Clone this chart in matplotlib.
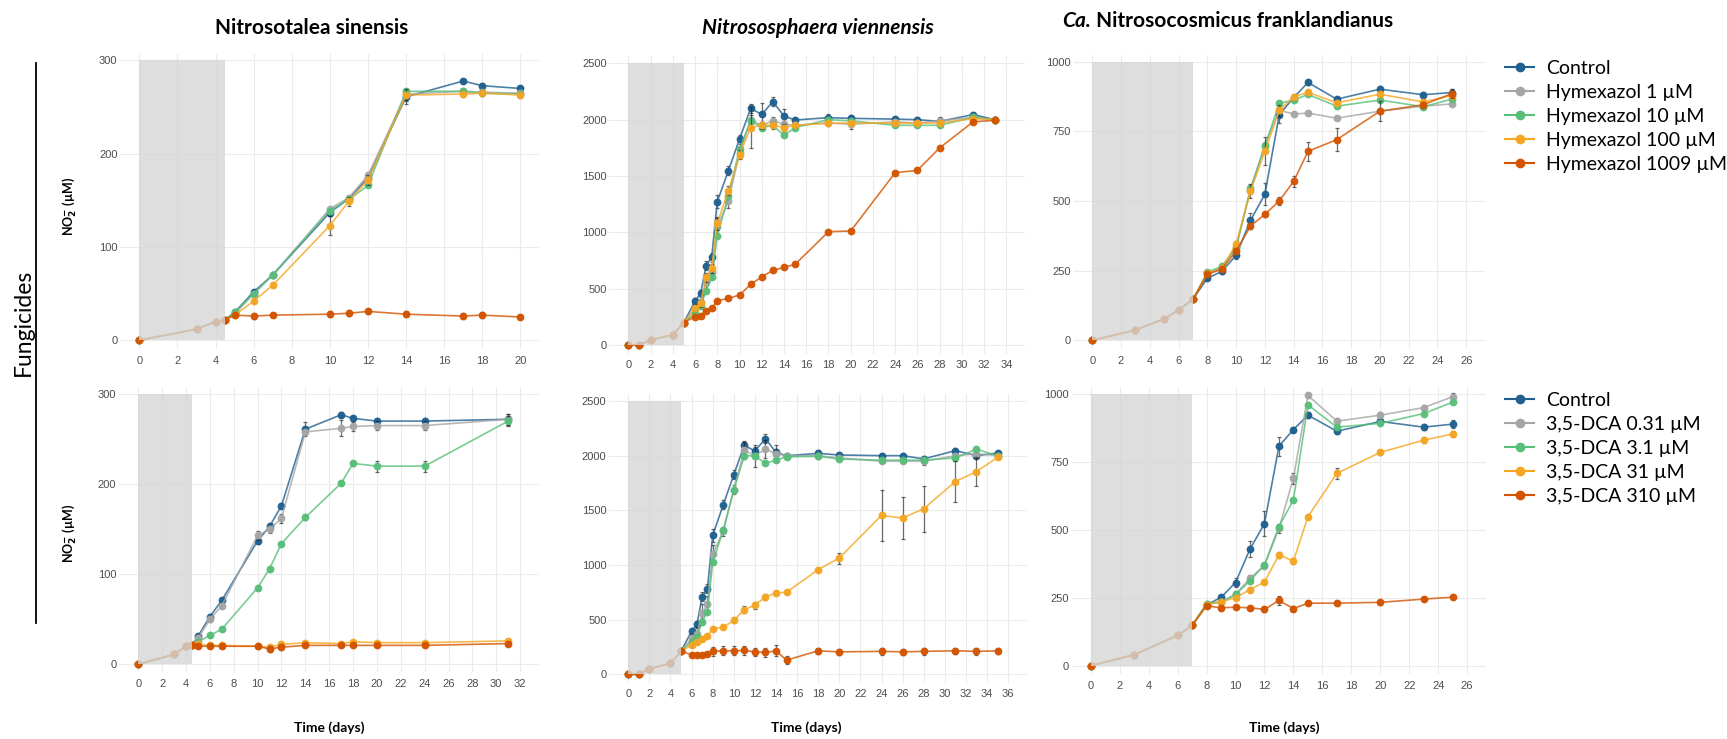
import matplotlib
matplotlib.use("Agg")
import matplotlib.pyplot as plt
from matplotlib.patches import Rectangle
from matplotlib.lines import Line2D

W, H = 1727, 739
plt.rcParams.update({"font.family": ["Lato", "DejaVu Sans"]})

COLORS = ["#1f6090", "#a6a6a6", "#58bf7a", "#f5a623", "#d35400"]
HYM_LABELS = ["Control", "Hymexazol 1 µM", "Hymexazol 10 µM", "Hymexazol 100 µM", "Hymexazol 1009 µM"]
DCA_LABELS = ["Control", "3,5-DCA 0.31 µM", "3,5-DCA 3.1 µM", "3,5-DCA 31 µM", "3,5-DCA 310 µM"]

# --- Nitrosotalea sinensis, hymexazol ---
PRE_X_A = [0, 3, 4, 4.5]
PRE_Y_A = [0, 12, 20, 22]
DAYS_A = [5, 6, 7, 10, 11, 12, 14, 17, 18, 20]
CTRL_A = [30, 52, 70, 137, 152, 174, 261, 278, 273, 270]
HYM1_A = [28, 50, 70, 141, 153, 177, 264, 267, 266, 265]
HYM10_A = [30, 50, 70, 139, 151, 166, 267, 267, 265, 264]
HYM100_A = [27, 42, 59, 123, 149, 172, 263, 264, 265, 263]
HYM1009_A = [27, 26, 27, 28, 29, 31, 28, 26, 27, 25]
ERR_A = {0: [2, 2, 2, 4, 3, 4, 8, 2, 3, 2],
         3: [2, 2, 2, 10, 5, 5, 6, 3, 3, 3],
         4: [2, 3, 2, 3, 3, 3, 3, 3, 3, 2]}

# --- Nitrososphaera viennensis, hymexazol ---
PRE_X_B = [0, 1, 2, 4, 5]
PRE_Y_B = [0, 0, 45, 90, 200]
DAYS_B = [6, 6.5, 7, 7.5, 8, 9, 10, 11, 12, 13, 14, 15, 18, 20, 24, 26, 28, 31, 33]
CTRL_B = [390, 459, 704, 778, 1272, 1547, 1828, 2100, 2047, 2160, 2033, 1997, 2018, 2012, 2005, 2000, 1985, 2045, 2000]
HYM1_B = [320, 380, 560, 650, 1050, 1280, 1700, 2000, 1950, 1990, 1960, 1950, 1970, 1960, 1980, 1970, 1990, 2020, 2000]
HYM10_B = [280, 350, 480, 600, 970, 1320, 1740, 1990, 1930, 1950, 1860, 1930, 2000, 1990, 1950, 1950, 1950, 2020, 2000]
HYM100_B = [330, 370, 600, 680, 1080, 1370, 1690, 1930, 1950, 1950, 1930, 1950, 1970, 1970, 1970, 1970, 1970, 2010, 2000]
HYM1009_B = [251, 260, 305, 325, 393, 414, 444, 538, 606, 663, 689, 716, 1006, 1012, 1530, 1550, 1750, 1980, 1995]
ERR_B = {0: [30, 30, 40, 40, 60, 40, 40, 40, 100, 40, 60, 20, 30, 30, 20, 20, 30, 20, 20],
         1: [30, 30, 60, 60, 80, 60, 40, 40, 30, 30, 30, 20, 30, 40, 20, 20, 30, 20, 20],
         3: [30, 30, 40, 40, 60, 40, 40, 180, 30, 30, 30, 20, 20, 20, 20, 20, 20, 20, 20]}

# --- Ca. Nitrosocosmicus franklandianus, hymexazol ---
PRE_X_C = [0, 3, 5, 6, 7]
PRE_Y_C = [0, 37, 77, 109, 147]
DAYS_C = [8, 9, 10, 11, 12, 13, 14, 15, 17, 20, 23, 25]
CTRL_C = [223, 247, 305, 430, 524, 809, 871, 925, 865, 901, 881, 889]
HYM1_C = [240, 260, 335, 540, 700, 825, 812, 815, 797, 822, 840, 848]
HYM10_C = [245, 265, 330, 545, 697, 850, 862, 882, 840, 862, 838, 865]
HYM100_C = [240, 258, 345, 535, 678, 825, 873, 890, 852, 883, 855, 878]
HYM1009_C = [237, 255, 320, 410, 452, 500, 570, 678, 720, 822, 845, 885]
ERR_C = {0: [8, 8, 15, 25, 40, 30, 10, 8, 8, 10, 10, 12],
         3: [8, 8, 12, 25, 50, 20, 10, 8, 8, 10, 10, 12],
         4: [8, 8, 10, 12, 10, 15, 20, 35, 40, 35, 10, 15]}

# --- Nitrosotalea sinensis, 3,5-DCA ---
PRE_X_D = [0, 3, 4, 4.5]
PRE_Y_D = [0, 11, 20, 21]
DAYS_D = [5, 6, 7, 10, 11, 12, 14, 17, 18, 20, 24, 31]
CTRL_D = [31, 53, 71, 137, 153, 176, 261, 277, 273, 270, 270, 272]
DCA031_D = [29, 50, 65, 143, 150, 162, 258, 262, 264, 265, 265, 272]
DCA3_D = [25, 32, 39, 85, 106, 134, 163, 201, 223, 220, 220, 270]
DCA31_D = [22, 21, 21, 20, 19, 22, 24, 23, 25, 24, 24, 26]
DCA310_D = [20, 20, 20, 20, 17, 19, 21, 21, 21, 21, 21, 23]
ERR_D = {0: [3, 3, 3, 4, 4, 3, 8, 3, 3, 3, 3, 6],
         1: [3, 3, 3, 5, 4, 5, 3, 9, 5, 5, 5, 6],
         2: [2, 2, 2, 2, 2, 2, 3, 2, 3, 6, 6, 6],
         4: [2, 2, 2, 2, 3, 3, 2, 2, 2, 2, 2, 2]}

# --- Nitrososphaera viennensis, 3,5-DCA ---
PRE_X_E = [0, 1, 2, 4, 5]
PRE_Y_E = [0, 0, 50, 100, 210]
DAYS_E = [6, 6.5, 7, 7.5, 8, 9, 10, 11, 12, 13, 14, 15, 18, 20, 24, 26, 28, 31, 33, 35]
CTRL_E = [395, 456, 709, 782, 1271, 1551, 1828, 2095, 2044, 2156, 2031, 2000, 2022, 2007, 2001, 2001, 1971, 2047, 2001, 2025]
DCA031_E = [330, 370, 560, 640, 1100, 1310, 1690, 2050, 2000, 2060, 2020, 2000, 2000, 1980, 1950, 1950, 1950, 2000, 2020, 2000]
DCA3_E = [300, 340, 480, 570, 1025, 1320, 1690, 2000, 2000, 1930, 1960, 1990, 1995, 1970, 1960, 1960, 1960, 1980, 2060, 2000]
DCA31_E = [268, 298, 322, 350, 417, 432, 493, 593, 632, 708, 745, 751, 958, 1064, 1454, 1430, 1515, 1764, 1855, 1986]
DCA310_E = [180, 178, 180, 183, 210, 215, 215, 218, 205, 200, 215, 130, 215, 205, 210, 205, 210, 215, 210, 215]
ERR_E = {0: [30, 30, 40, 40, 60, 40, 40, 40, 40, 40, 30, 20, 30, 30, 20, 20, 30, 20, 20, 20],
         1: [40, 60, 80, 80, 80, 40, 40, 80, 100, 80, 80, 20, 20, 20, 20, 20, 30, 20, 40, 20],
         3: [20, 20, 20, 15, 15, 15, 20, 30, 30, 30, 20, 15, 15, 50, 233, 190, 210, 190, 130, 20],
         4: [15, 10, 10, 10, 40, 40, 40, 40, 40, 40, 50, 40, 30, 30, 30, 30, 30, 30, 30, 30]}

# --- Ca. Nitrosocosmicus franklandianus, 3,5-DCA ---
PRE_X_F = [0, 3, 6, 7]
PRE_Y_F = [0, 40, 111, 148]
DAYS_F = [8, 9, 10, 11, 12, 13, 14, 15, 17, 20, 23, 25]
CTRL_F = [224, 251, 306, 429, 523, 808, 869, 922, 863, 899, 878, 889]
DCA031_F = [228, 235, 262, 322, 368, 505, 690, 995, 900, 922, 950, 990]
DCA3_F = [228, 233, 262, 312, 372, 512, 610, 960, 878, 892, 928, 970]
DCA31_F = [225, 235, 250, 280, 308, 408, 385, 548, 708, 785, 830, 853]
DCA310_F = [220, 213, 215, 213, 207, 240, 210, 230, 230, 233, 245, 252]
ERR_F = {0: [8, 8, 15, 30, 45, 35, 10, 10, 10, 10, 10, 15],
         1: [5, 5, 8, 10, 10, 15, 20, 10, 10, 10, 10, 12],
         3: [5, 5, 5, 8, 8, 10, 10, 8, 20, 10, 10, 12],
         4: [8, 8, 8, 8, 8, 15, 8, 8, 8, 8, 8, 8]}

SHADE = [4.5, 5, 7, 4.5, 5, 7]
XMAX = [20, 34, 26, 32, 36, 26]
YTICKS = [[0, 100, 200, 300], [0, 500, 1000, 1500, 2000, 2500], [0, 250, 500, 750, 1000]] * 2

# axes rectangles in pixels: left, right, top, bottom
RECTS = [(120.3, 539.4, 53.5, 348.7), (609.4, 1025.3, 56.3, 353.5), (1073.6, 1484.9, 54.6, 348.7),
         (119.2, 539.2, 387.3, 672.4), (609.3, 1027.1, 394.3, 682.5), (1071.9, 1486.0, 387.2, 673.8)]

PANELS = [
    (PRE_X_A, PRE_Y_A, DAYS_A, [CTRL_A, HYM1_A, HYM10_A, HYM100_A, HYM1009_A], ERR_A),
    (PRE_X_B, PRE_Y_B, DAYS_B, [CTRL_B, HYM1_B, HYM10_B, HYM100_B, HYM1009_B], ERR_B),
    (PRE_X_C, PRE_Y_C, DAYS_C, [CTRL_C, HYM1_C, HYM10_C, HYM100_C, HYM1009_C], ERR_C),
    (PRE_X_D, PRE_Y_D, DAYS_D, [CTRL_D, DCA031_D, DCA3_D, DCA31_D, DCA310_D], ERR_D),
    (PRE_X_E, PRE_Y_E, DAYS_E, [CTRL_E, DCA031_E, DCA3_E, DCA31_E, DCA310_E], ERR_E),
    (PRE_X_F, PRE_Y_F, DAYS_F, [CTRL_F, DCA031_F, DCA3_F, DCA31_F, DCA310_F], ERR_F),
]

fig = plt.figure(figsize=(W / 100, H / 100), dpi=100)


def px_axes(left, right, top, bottom):
    return fig.add_axes([left / W, 1 - bottom / H, (right - left) / W, (bottom - top) / H])


for k, (pre_x, pre_y, days, series, errs) in enumerate(PANELS):
    ax = px_axes(*RECTS[k])
    xmax, ymax = XMAX[k], YTICKS[k][-1]
    for i, vals in enumerate(series):
        c = COLORS[i]
        z = 3 + i * 0.1
        if i in errs:
            ax.errorbar(days, vals, yerr=errs[i], fmt="none", ecolor="#222222", elinewidth=0.9,
                        capsize=1.4, capthick=0.9, alpha=0.65, zorder=z)
        ax.plot(pre_x + days, pre_y + vals, "-", color=c, lw=1.2, alpha=0.8, zorder=z)
        ax.plot(pre_x + days, pre_y + vals, "o", color=c, ms=4.6, alpha=0.95, zorder=z)
    ax.add_patch(Rectangle((0, 0), SHADE[k], ymax, facecolor="#d6d6d6", alpha=0.8,
                           edgecolor="none", zorder=10))
    ax.set_xlim(-0.05 * xmax, 1.05 * xmax)
    ax.set_ylim(-0.03 * ymax, 1.025 * ymax)
    ax.set_xticks(range(0, xmax + 1, 2))
    ax.set_yticks(YTICKS[k])
    ax.grid(True, color="#ebebeb", lw=0.8)
    ax.set_axisbelow(True)
    for s in ax.spines.values():
        s.set_visible(False)
    ax.tick_params(length=0, labelsize=8, labelcolor="#4d4d4d")
    ax.tick_params(axis="x", pad=5)
    ax.tick_params(axis="y", pad=2)
    for lab in ax.get_xticklabels() + ax.get_yticklabels():
        lab.set_family(["Liberation Sans", "DejaVu Sans"])


def ftext(x, y, s, **kw):
    return fig.text(x / W, 1 - y / H, s, **kw)


ftext(312, 28, "Nitrosotalea sinensis", fontsize=15, fontweight="bold", ha="center", va="center")
ftext(818, 28, "Nitrososphaera viennensis", fontsize=15, fontweight="bold", style="italic",
      ha="center", va="center")
t1 = ftext(1062, 21, "Ca.", fontsize=15, fontweight="bold", style="italic", ha="left", va="center")
fig.canvas.draw()
bb = t1.get_window_extent()
fig.text(bb.x1 / W, 1 - 21 / H, " Nitrosocosmicus franklandianus", fontsize=15, fontweight="bold",
         ha="left", va="center")

ftext(23, 322, "Fungicides", fontsize=16.5, rotation=90, ha="center", va="center")
fig.add_artist(Line2D([36 / W, 36 / W], [1 - 63 / H, 1 - 623 / H], color="black", lw=1.3))

for yc in (206, 533):
    ftext(70, yc, r"NO$_\mathbf{2}^{\mathbf{-}}$ (µM)", fontsize=9, fontweight="bold", rotation=90,
          ha="center", va="center")
for xc in (329, 806, 1284):
    ftext(xc, 728, "Time (days)", fontsize=10, fontweight="bold", ha="center", va="center")

for labels, ytop in ((HYM_LABELS, 60), (DCA_LABELS, 392)):
    handles = [Line2D([], [], color=c, marker="o", lw=1.5, ms=6) for c in COLORS]
    fig.legend(handles, labels, loc="upper left", bbox_to_anchor=(1505 / W, 1 - ytop / H),
               frameon=False, fontsize=14, handlelength=1.5, handletextpad=0.6,
               labelspacing=0.36, borderaxespad=0, borderpad=0)

fig.savefig("out.png", dpi=100)
